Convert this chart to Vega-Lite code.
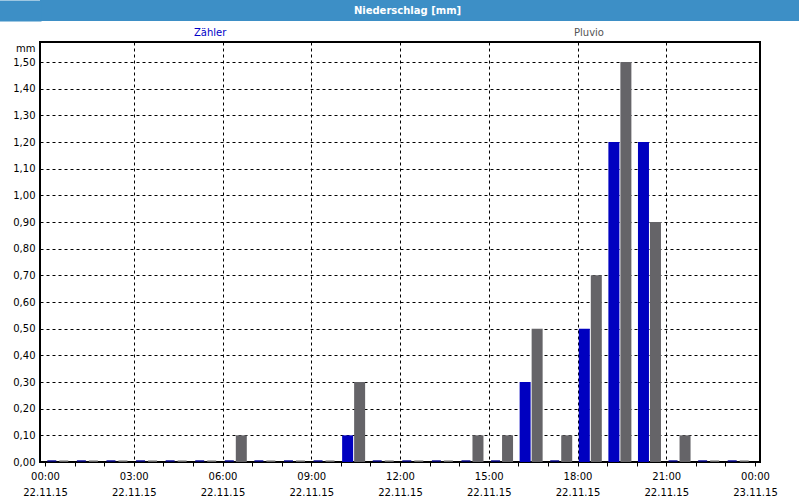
{
  "$schema": "https://vega.github.io/schema/vega-lite/v6.json",
  "background": "white",
  "padding": 0,
  "spacing": 20,
  "config": {"font": "DejaVu Sans", "view": {"stroke": null}},
  "vconcat": [
    {
      "width": 759,
      "height": 21,
      "view": {"fill": "#3d8fc6", "stroke": null},
      "data": {"values": [{"title": "Niederschlag [mm]"}]},
      "mark": {"type": "text", "font": "DejaVu Sans", "fontWeight": "bold", "fontSize": 10, "color": "white", "baseline": "middle", "align": "center", "dx": -12},
      "encoding": {
        "text": {"field": "title", "type": "nominal"},
        "y": {
          "datum": 0.5, "type": "quantitative",
          "scale": {"domain": [0, 1], "nice": false},
          "axis": {"title": null, "labels": false, "ticks": false, "grid": false, "domainColor": "#3d8fc6", "domainWidth": 42, "offset": 20}
        }
      }
    },
    {
      "width": 720,
      "height": 420,
      "view": {"fill": "white", "stroke": "black", "strokeWidth": 2},
      "data": {
        "values": [
          {"hour": 0, "series": "Zähler", "v": 0}, {"hour": 0, "series": "Pluvio", "v": 0},
          {"hour": 1, "series": "Zähler", "v": 0}, {"hour": 1, "series": "Pluvio", "v": 0},
          {"hour": 2, "series": "Zähler", "v": 0}, {"hour": 2, "series": "Pluvio", "v": 0},
          {"hour": 3, "series": "Zähler", "v": 0}, {"hour": 3, "series": "Pluvio", "v": 0},
          {"hour": 4, "series": "Zähler", "v": 0}, {"hour": 4, "series": "Pluvio", "v": 0},
          {"hour": 5, "series": "Zähler", "v": 0}, {"hour": 5, "series": "Pluvio", "v": 0},
          {"hour": 6, "series": "Zähler", "v": 0}, {"hour": 6, "series": "Pluvio", "v": 0.1},
          {"hour": 7, "series": "Zähler", "v": 0}, {"hour": 7, "series": "Pluvio", "v": 0},
          {"hour": 8, "series": "Zähler", "v": 0}, {"hour": 8, "series": "Pluvio", "v": 0},
          {"hour": 9, "series": "Zähler", "v": 0}, {"hour": 9, "series": "Pluvio", "v": 0},
          {"hour": 10, "series": "Zähler", "v": 0.1}, {"hour": 10, "series": "Pluvio", "v": 0.3},
          {"hour": 11, "series": "Zähler", "v": 0}, {"hour": 11, "series": "Pluvio", "v": 0},
          {"hour": 12, "series": "Zähler", "v": 0}, {"hour": 12, "series": "Pluvio", "v": 0},
          {"hour": 13, "series": "Zähler", "v": 0}, {"hour": 13, "series": "Pluvio", "v": 0},
          {"hour": 14, "series": "Zähler", "v": 0}, {"hour": 14, "series": "Pluvio", "v": 0.1},
          {"hour": 15, "series": "Zähler", "v": 0}, {"hour": 15, "series": "Pluvio", "v": 0.1},
          {"hour": 16, "series": "Zähler", "v": 0.3}, {"hour": 16, "series": "Pluvio", "v": 0.5},
          {"hour": 17, "series": "Zähler", "v": 0}, {"hour": 17, "series": "Pluvio", "v": 0.1},
          {"hour": 18, "series": "Zähler", "v": 0.5}, {"hour": 18, "series": "Pluvio", "v": 0.7},
          {"hour": 19, "series": "Zähler", "v": 1.2}, {"hour": 19, "series": "Pluvio", "v": 1.5},
          {"hour": 20, "series": "Zähler", "v": 1.2}, {"hour": 20, "series": "Pluvio", "v": 0.9},
          {"hour": 21, "series": "Zähler", "v": 0}, {"hour": 21, "series": "Pluvio", "v": 0.1},
          {"hour": 22, "series": "Zähler", "v": 0}, {"hour": 22, "series": "Pluvio", "v": 0},
          {"hour": 23, "series": "Zähler", "v": 0}, {"hour": 23, "series": "Pluvio", "v": 0}
        ]
      },
      "encoding": {
        "x": {
          "field": "hour", "type": "quantitative", "title": null,
          "scale": {"domain": [0, 24], "nice": false, "zero": false},
          "axis": {
            "values": [0,1,2,3,4,5,6,7,8,9,10,11,12,13,14,15,16,17,18,19,20,21,22,23,24],
            "labelExpr": "datum.value % 3 === 0 ? [(datum.value === 24 ? '00' : (datum.value < 10 ? '0' : '') + datum.value) + ':00', datum.value === 24 ? '23.11.15' : '22.11.15'] : ''",
            "domain": false,
            "tickSize": 4, "tickColor": "black", "tickWidth": 1,
            "grid": true, "gridColor": "black", "gridDash": [3, 3], "gridWidth": 1,
            "gridOpacity": {"condition": {"test": "datum.value % 3 === 0 && datum.value > 0 && datum.value < 24", "value": 1}, "value": 0},
            "labelFontSize": 10, "labelColor": "black", "labelPadding": 5,
            "labelLineHeight": 16, "labelFlush": false, "labelOverlap": false, "labelBaseline": "top"
          }
        },
        "y": {
          "field": "v", "type": "quantitative", "title": "mm", "stack": null,
          "scale": {"domain": [0, 1.575], "nice": false},
          "axis": {
            "values": [0, 0.1, 0.2, 0.3, 0.4, 0.5, 0.6, 0.7, 0.8, 0.9, 1.0, 1.1, 1.2, 1.3, 1.4, 1.5],
            "labelExpr": "replace(format(datum.value, '.2f'), '.', ',')",
            "domain": false, "ticks": false, "labelOverlap": false,
            "grid": true, "gridColor": "black", "gridDash": [3, 3], "gridWidth": 1, "gridOpacity": 1,
            "labelFontSize": 10, "labelColor": "black", "labelPadding": 5,
            "titleAngle": 0, "titleAlign": "right", "titleBaseline": "middle",
            "titleX": -5, "titleY": 6, "titleFontWeight": "normal", "titleFontSize": 10, "titleColor": "black",
            "minExtent": 39, "maxExtent": 39
          }
        },
        "color": {
          "field": "series", "type": "nominal",
          "scale": {"domain": ["Zähler", "Pluvio"], "range": ["#0000c0", "#656468"]},
          "legend": {
            "orient": "none", "direction": "horizontal", "legendX": 144, "legendY": 28,
            "title": null, "symbolSize": 0, "symbolOpacity": 0, "symbolStrokeWidth": 0,
            "labelOffset": 0, "labelFontSize": 10, "columnPadding": 337, "padding": 0,
            "encode": {"labels": {"update": {"fill": {"signal": "datum.label === 'Zähler' ? '#0000c8' : '#555555'"}}}}
          }
        }
      },
      "layer": [
        {
          "transform": [{"filter": "datum.series === 'Zähler' && datum.v > 0"}],
          "mark": {"type": "bar", "orient": "vertical", "width": 11, "xOffset": 6.8}
        },
        {
          "transform": [{"filter": "datum.series === 'Pluvio' && datum.v > 0"}],
          "mark": {"type": "bar", "orient": "vertical", "width": 11, "xOffset": 18.8}
        },
        {
          "transform": [{"filter": "datum.series === 'Zähler' && datum.v === 0"}],
          "mark": {"type": "tick", "orient": "horizontal", "size": 9, "thickness": 2, "xOffset": 6.8, "yOffset": -1},
          "encoding": {"color": {"value": "#000090"}}
        },
        {
          "transform": [{"filter": "datum.series === 'Pluvio' && datum.v === 0"}],
          "mark": {"type": "tick", "orient": "horizontal", "size": 9, "thickness": 2, "xOffset": 18.8, "yOffset": -1},
          "encoding": {"color": {"value": "#909090"}}
        }
      ]
    }
  ]
}
